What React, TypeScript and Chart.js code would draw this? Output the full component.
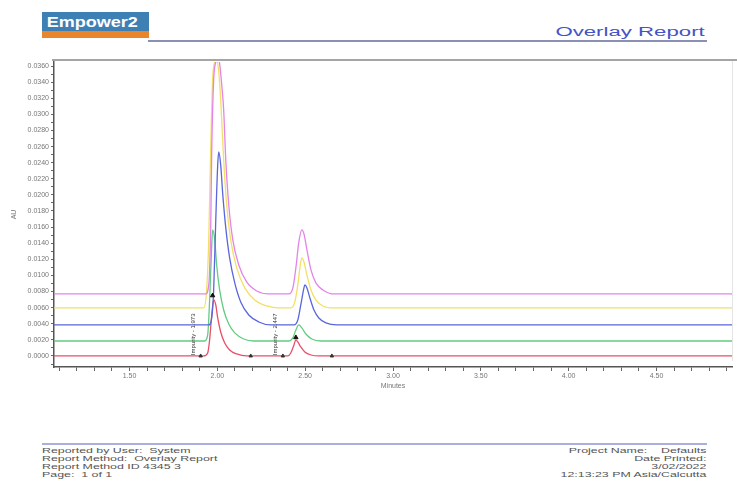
import React, { useEffect, useRef } from 'react';
import { Chart, registerables } from 'chart.js';

Chart.register(...registerables);

// ---- axis ranges / ticks ----
const X_MIN = 1.07;
const X_MAX = 4.93;
const Y_MIN = -0.00137;
const Y_MAX = 0.0365;
const X_STEP = 0.1;
const Y_STEP = 0.001;

// ---- series (minutes, AU) ----
const seriesNames = ['Injection 1', 'Injection 2', 'Injection 3', 'Injection 4', 'Injection 5'];
const seriesColors = ['#e8506a', '#62cc80', '#5a66dc', '#f2e066', '#e284ea'];

const trace1: number[][] = [
  [1.07, 0], [1.922, 0], [1.945, 0.00037], [1.956, 0.00199], [1.968, 0.00509], [1.979, 0.00696],
  [1.991, 0.00633], [2.002, 0.00472], [2.019, 0.00298], [2.042, 0.00161], [2.07, 0.00075],
  [2.11, 0.00025], [2.167, 0], [2.401, 0], [2.418, 0.00037], [2.436, 0.00137], [2.447, 0.00199],
  [2.458, 0.00174], [2.475, 0.00112], [2.498, 0.0005], [2.533, 0.00012], [2.578, 0], [4.93, 0],
];
const trace2: number[][] = [
  [1.07, 0.00186], [1.928, 0.00186], [1.945, 0.00261], [1.956, 0.00696], [1.968, 0.01379],
  [1.973, 0.01565], [1.985, 0.01441], [1.996, 0.0113], [2.013, 0.0082], [2.036, 0.00571],
  [2.065, 0.00397], [2.099, 0.00286], [2.15, 0.00211], [2.207, 0.00186], [2.407, 0.00186],
  [2.43, 0.00224], [2.447, 0.00323], [2.464, 0.00385], [2.481, 0.00348], [2.504, 0.00273],
  [2.538, 0.00211], [2.589, 0.00186], [4.93, 0.00186],
];
const trace3: number[][] = [
  [1.07, 0.00385], [1.951, 0.00385], [1.968, 0.00472], [1.979, 0.0082], [1.991, 0.01689],
  [2.002, 0.02372], [2.008, 0.02534], [2.019, 0.02372], [2.031, 0.02], [2.048, 0.0159],
  [2.07, 0.01217], [2.099, 0.00907], [2.133, 0.00671], [2.179, 0.00509], [2.236, 0.00422],
  [2.304, 0.00385], [2.436, 0.00385], [2.458, 0.00447], [2.475, 0.00633], [2.493, 0.00845],
  [2.498, 0.00882], [2.51, 0.00845], [2.527, 0.0072], [2.55, 0.00571], [2.578, 0.00472],
  [2.618, 0.0041], [2.681, 0.00385], [4.93, 0.00385],
];
const trace4: number[][] = [
  [1.07, 0.00596], [1.922, 0.00596], [1.939, 0.0082], [1.951, 0.01441], [1.962, 0.02559],
  [1.973, 0.03428], [1.985, 0.03651], [1.996, 0.03676], [2.008, 0.03527], [2.019, 0.0318],
  [2.036, 0.02434], [2.053, 0.01875], [2.076, 0.01441], [2.11, 0.01093], [2.156, 0.00845],
  [2.213, 0.00696], [2.282, 0.00621], [2.35, 0.00596], [2.418, 0.00596], [2.441, 0.00671],
  [2.458, 0.00882], [2.47, 0.01093], [2.481, 0.01217], [2.493, 0.01167], [2.51, 0.01006],
  [2.533, 0.0082], [2.561, 0.00696], [2.601, 0.00621], [2.664, 0.00596], [4.93, 0.00596],
];
const trace5: number[][] = [
  [1.07, 0.0077], [1.934, 0.0077], [1.951, 0.00882], [1.962, 0.01565], [1.968, 0.02559],
  [1.979, 0.03428], [1.991, 0.03651], [2.002, 0.03701], [2.013, 0.03627], [2.025, 0.03366],
  [2.036, 0.03055], [2.048, 0.02434], [2.065, 0.01875], [2.088, 0.01441], [2.122, 0.0113],
  [2.167, 0.00919], [2.224, 0.00807], [2.293, 0.0077], [2.407, 0.0077], [2.43, 0.00845],
  [2.447, 0.01093], [2.464, 0.01416], [2.481, 0.01565], [2.493, 0.01515], [2.51, 0.01317],
  [2.533, 0.01068], [2.561, 0.00907], [2.601, 0.0082], [2.664, 0.0077], [4.93, 0.0077],
];
const traces = [trace1, trace2, trace3, trace4, trace5];

// integration / apex markers
const apexMarks: number[][] = [[1.973, 0.0075], [2.447, 0.0023]];
const baselineMarks: number[][] = [[1.905, 0], [2.19, 0], [2.373, 0], [2.652, 0]];

// peak labels
const peakLabelX = [1.865, 2.333];
const peakLabelText = ['Impurity - 1.973', 'Impurity - 2.447'];

const footerLeft = [
  'Reported by User:  System',
  'Report Method:  Overlay Report',
  'Report Method ID 4345 3',
  'Page:  1 of 1',
];
const footerRight = [
  'Project Name:    Defaults',
  'Date Printed:',
  '3/02/2022',
  '12:13:23 PM Asia/Calcutta',
];

const FONT = '"Liberation Sans", Arial, sans-serif';

const peakLabelPlugin = {
  id: 'peakLabels',
  afterDatasetsDraw(chart: any) {
    const { ctx } = chart;
    const xs = chart.scales.x;
    const ys = chart.scales.y;
    ctx.save();
    ctx.font = '6px ' + FONT;
    ctx.fillStyle = '#333';
    ctx.textBaseline = 'middle';
    ctx.textAlign = 'left';
    peakLabelX.forEach((v, i) => {
      ctx.save();
      ctx.translate(xs.getPixelForValue(v), ys.getPixelForValue(0.0001));
      ctx.rotate(-Math.PI / 2);
      ctx.fillText(peakLabelText[i], 0, 0);
      ctx.restore();
    });
    ctx.restore();
  },
};

export default function App() {
  const ref = useRef<HTMLCanvasElement>(null);

  useEffect(() => {
    const lineSets = traces.map((t, i) => ({
      type: 'line' as const,
      label: seriesNames[i],
      data: t.map((p) => ({ x: p[0], y: p[1] })),
      borderColor: seriesColors[i],
      borderWidth: 1.3,
      pointRadius: 0,
      cubicInterpolationMode: 'monotone' as const,
      fill: false,
      order: 5 - i,
    }));
    const chart = new Chart(ref.current!, {
      type: 'line',
      data: {
        datasets: [
          ...lineSets,
          {
            type: 'scatter' as const,
            label: 'apex',
            data: apexMarks.map((p) => ({ x: p[0], y: p[1] })),
            pointStyle: 'triangle',
            pointRadius: 2.5,
            backgroundColor: '#111',
            borderColor: '#111',
            showLine: false,
            order: 0,
          },
          {
            type: 'scatter' as const,
            label: 'bounds',
            data: baselineMarks.map((p) => ({ x: p[0], y: p[1] })),
            pointStyle: 'triangle',
            pointRadius: 2,
            backgroundColor: '#333',
            borderColor: '#333',
            showLine: false,
            order: 0,
          },
        ] as any,
      },
      options: {
        animation: false,
        responsive: false,
        devicePixelRatio: 1,
        layout: { padding: { top: 14, right: 4, left: 0, bottom: 0 } },
        plugins: { legend: { display: false }, tooltip: { enabled: false } },
        scales: {
          x: {
            type: 'linear',
            min: X_MIN,
            max: X_MAX,
            afterFit: (s: any) => { s.height = 27; },
            border: { color: '#555', width: 1.5 },
            grid: { drawOnChartArea: false, tickLength: 4, color: '#666' },
            ticks: {
              stepSize: X_STEP,
              includeBounds: false,
              autoSkip: false,
              maxRotation: 0,
              padding: 1,
              color: '#777',
              font: { size: 7, family: FONT },
              callback: (v: any) => (Math.round(Number(v) * 10) % 5 === 0 ? Number(v).toFixed(2) : ''),
            },
            title: { display: true, text: 'Minutes', color: '#777', font: { size: 7, family: FONT }, padding: { top: 2, bottom: 4 } },
          },
          y: {
            type: 'linear',
            min: Y_MIN,
            max: Y_MAX,
            afterFit: (s: any) => { s.width = 54; },
            border: { color: '#555', width: 1.5 },
            grid: { drawOnChartArea: false, tickLength: 3, color: '#666' },
            ticks: {
              stepSize: Y_STEP,
              includeBounds: false,
              autoSkip: false,
              padding: 2,
              color: '#777',
              font: { size: 7, family: FONT },
              callback: (v: any) => (Math.round(Number(v) * 1000) % 2 === 0 ? Number(v).toFixed(4) : ''),
            },
            title: { display: true, text: 'AU', color: '#777', font: { size: 7, family: FONT }, padding: { top: 10, bottom: 4 } },
          },
        },
      } as any,
      plugins: [peakLabelPlugin],
    });
    return () => chart.destroy();
  }, []);

  const footStyle: React.CSSProperties = { fontSize: 7.5, lineHeight: '8px', color: '#555', whiteSpace: 'pre' };

  return (
    <div style={{ position: 'fixed', left: 0, top: 0, width: 737, height: 483, background: '#fff', overflow: 'hidden', fontFamily: FONT }}>
      {/* logo */}
      <div style={{ position: 'absolute', left: 42, top: 12, width: 107, height: 26 }}>
        <div style={{ height: 19, background: '#3f80b4', overflow: 'hidden' }}>
          <span style={{ display: 'inline-block', color: '#fff', fontWeight: 'bold', fontSize: 15, lineHeight: '19px', paddingLeft: 4, transform: 'scaleX(1.2)', transformOrigin: 'left center' }}>Empower2</span>
        </div>
        <div style={{ height: 7, background: '#e9862b' }} />
      </div>
      <div style={{ position: 'absolute', right: 32, top: 25, fontSize: 12, lineHeight: '14px', color: '#4454c4', whiteSpace: 'nowrap', transform: 'scaleX(1.85)', transformOrigin: 'right center' }}>Overlay Report</div>
      <div style={{ position: 'absolute', left: 148, top: 40, width: 559, height: 2, background: '#8a90b4' }} />
      {/* plot frame top & right */}
      <div style={{ position: 'absolute', left: 52, top: 59, width: 685, height: 2, background: '#a5a5a5' }} />
      <div style={{ position: 'absolute', left: 732, top: 61, width: 1, height: 300, background: '#e4e4e4' }} />
      <canvas ref={ref} width={737} height={346} style={{ position: 'absolute', left: 0, top: 48, width: 737, height: 346 }} />
      {/* footer */}
      <div style={{ position: 'absolute', left: 42, top: 443, width: 665, height: 2, background: '#a9b0dc' }} />
      <div style={{ position: 'absolute', left: 42, top: 447 }}>
        {footerLeft.map((t, i) => (
          <div key={i} style={{ ...footStyle, transform: 'scaleX(1.65)', transformOrigin: 'left center' }}>{t}</div>
        ))}
      </div>
      <div style={{ position: 'absolute', right: 31, top: 447, textAlign: 'right' }}>
        {footerRight.map((t, i) => (
          <div key={i} style={{ ...footStyle, transform: 'scaleX(1.65)', transformOrigin: 'right center' }}>{t}</div>
        ))}
      </div>
    </div>
  );
}
